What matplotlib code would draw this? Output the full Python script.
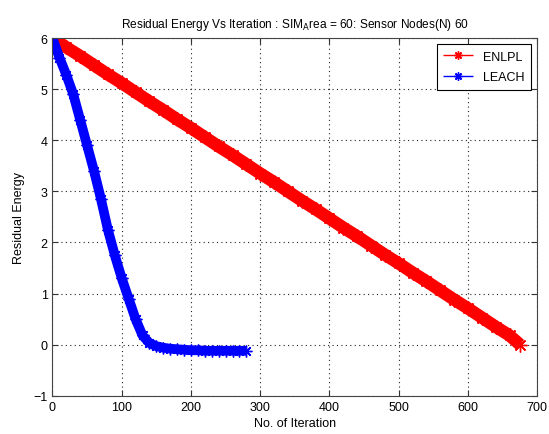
import numpy as np
import matplotlib
matplotlib.use("Agg")
import matplotlib.pyplot as plt

plt.rcParams['font.family'] = ['Liberation Sans', 'DejaVu Sans']

# ENLPL residual energy
enlpl_iter = [0, 20, 40, 60, 80, 100, 120, 140, 160, 180, 200, 220, 240, 260,
              280, 300, 320, 340, 360, 380, 400, 420, 440, 460, 480, 500, 520,
              540, 560, 580, 600, 620, 640, 660, 675]
enlpl_energy = [6.00, 5.82, 5.65, 5.47, 5.29, 5.12, 4.94, 4.76, 4.59, 4.41,
                4.24, 4.06, 3.88, 3.71, 3.53, 3.35, 3.18, 3.00, 2.82, 2.65,
                2.47, 2.29, 2.12, 1.94, 1.76, 1.59, 1.41, 1.24, 1.06, 0.88,
                0.71, 0.53, 0.35, 0.18, 0.00]

# LEACH residual energy
leach_iter = [0, 10, 20, 30, 40, 50, 60, 70, 80, 90, 100, 110, 120, 130, 140,
              150, 160, 170, 180, 190, 200, 210, 220, 230, 240, 250, 260, 270, 280]
leach_energy = [6.00, 5.62, 5.28, 4.90, 4.40, 3.90, 3.40, 2.85, 2.25, 1.75,
                1.30, 0.90, 0.50, 0.18, 0.03, -0.03, -0.06, -0.08, -0.09, -0.10,
                -0.11, -0.11, -0.12, -0.12, -0.12, -0.12, -0.12, -0.12, -0.12]

star = (8, 2, 0)  # asterisk like matlab '*'

fig = plt.figure(figsize=(5.49, 4.35), dpi=100)
ax = fig.add_axes([0.0956, 0.088, 0.883, 0.822])

ax.plot(enlpl_iter, enlpl_energy, '-', marker=star, color='red', lw=9, ms=10,
        mew=1.0, solid_capstyle='butt', label='ENLPL')
ax.plot(leach_iter, leach_energy, '-', marker=star, color='blue', lw=7, ms=8.5,
        mew=1.0, solid_capstyle='butt', label='LEACH')

ax.set_xlim(0, 700)
ax.set_ylim(-1, 6)
ax.set_xticks(range(0, 701, 100))
ax.set_yticks(range(-1, 7))
ax.grid(True, linestyle=(0, (1, 3)), color='#222222', lw=0.8)
ax.tick_params(direction='in', top=True, right=True, labelsize=9, length=4,
               colors='#333333', labelcolor='black')
for s in ax.spines.values():
    s.set_color('#444444')

ax.set_title('Residual Energy Vs Iteration : SIM$_{\\mathrm{A}}$rea = 60: Sensor Nodes(N) 60',
             fontsize=8.6, pad=8)
ax.set_xlabel('No. of Iteration', fontsize=9, labelpad=3)
ax.set_ylabel('Residual Energy', fontsize=9, labelpad=6)

leg = ax.legend(loc='upper right', fontsize=9, fancybox=False, framealpha=1,
                edgecolor='black', handlelength=2.4, borderaxespad=0.5,
                labelspacing=0.7, borderpad=0.5)
for h in leg.get_lines():
    h.set_linewidth(1)
    h.set_markersize(6)
    h.set_markeredgewidth(1)
leg.get_frame().set_linewidth(0.8)

fig.savefig('out.png', dpi=100)
